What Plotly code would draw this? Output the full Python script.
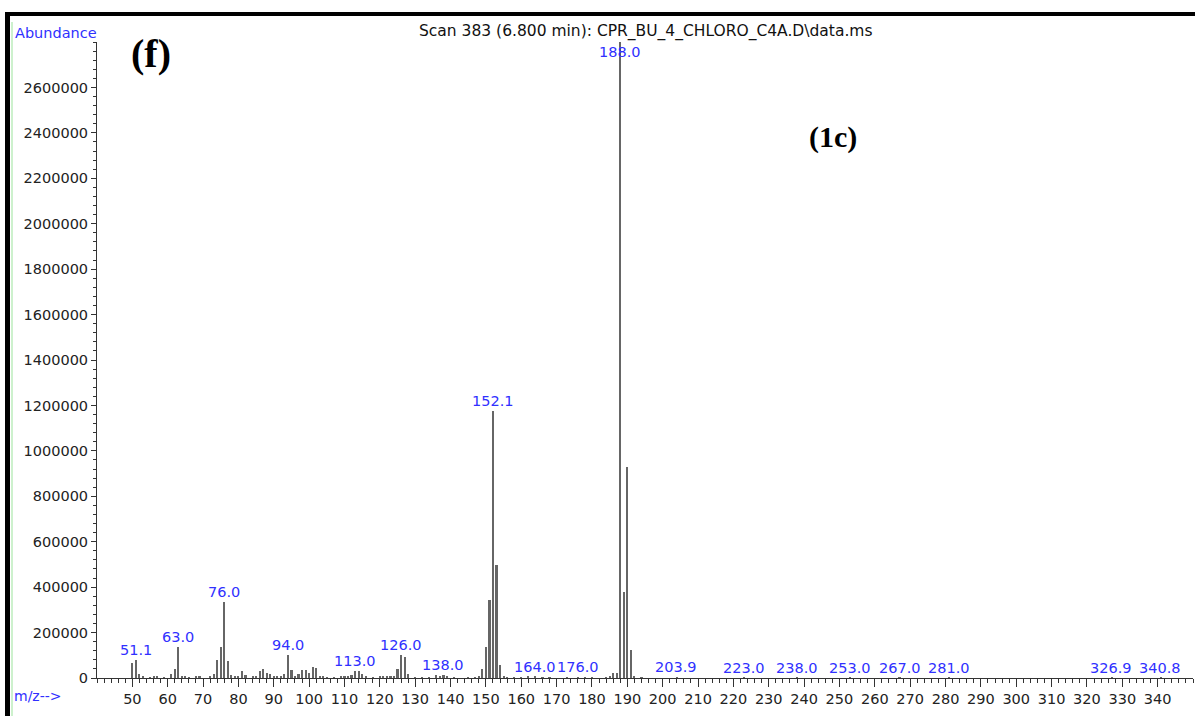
import plotly.graph_objects as go

# ---------------- data ----------------
mz = [50, 51, 52, 53, 55, 56, 57, 59, 61, 62, 63, 64, 65, 66, 68, 69, 72, 73, 74, 75,
      76, 77, 78, 79, 80, 81, 82, 84, 85, 86, 87, 88, 89, 90, 91, 92, 93, 94, 95, 96,
      97, 98, 99, 100, 101, 102, 103, 104, 105, 107, 109, 110, 111, 112, 113, 114, 115, 116, 118, 120,
      121, 122, 123, 124, 125, 126, 127, 128, 130, 132, 134, 136, 137, 138, 139, 141, 145, 147, 148, 149,
      150, 151, 152, 153, 154, 155, 156, 158, 160, 162, 164, 166, 168, 173, 176, 178, 180, 184, 185, 186,
      187, 188, 189, 190, 191, 192, 194, 204, 223, 238, 253, 267, 281, 327, 341]
abundance = [66000, 81000, 19000, 5000, 4000, 5000, 6000, 4000, 19000, 41000, 136000, 8000, 5000, 4000, 6000, 5000, 6000, 19000, 81000, 136000,
             333000, 76000, 15000, 7000, 5000, 32000, 13000, 6000, 8000, 29000, 40000, 20000, 19000, 8000, 5000, 6000, 19000, 103000, 34000, 8000,
             19000, 34000, 37000, 22000, 47000, 44000, 10000, 5000, 4000, 4000, 8000, 10000, 10000, 15000, 29000, 29000, 19000, 8000, 4000, 6000,
             6000, 7000, 8000, 10000, 41000, 103000, 92000, 19000, 4000, 3000, 4000, 12000, 9000, 13000, 8000, 3000, 3000, 4000, 6000, 41000,
             136000, 345000, 1175000, 497000, 59000, 8000, 4000, 3000, 3000, 10000, 6000, 3000, 3000, 3000, 4000, 3000, 3000, 4000, 6000, 22000,
             22000, 2810000, 378000, 927000, 125000, 6000, 3000, 3000, 2000, 2000, 1500, 1500, 1500, 1500, 1500]

peak_labels = [51.1, 63.0, 76.0, 94.0, 113.0, 126.0, 138.0, 152.1, 164.0, 176.0,
               188.0, 203.9, 223.0, 238.0, 253.0, 267.0, 281.0, 326.9, 340.8]

x_ticks = list(range(50, 341, 10))
y_ticks = list(range(0, 2600001, 200000))

title_text = "Scan 383 (6.800 min): CPR_BU_4_CHLORO_C4A.D\\data.ms"

# ---------------- layout geometry ----------------
W, H = 1195, 716
ML, MR, MT, MB = 97, 2, 42, 38
PW, PH = W - ML - MR, H - MT - MB
Y_MAX = 2800000
LABEL_CAP = 2710000


def px(xp):
    return (xp - ML) / PW


def py(yp):
    return (H - MB - yp) / PH


BLUE = "#3030ff"
FONT = "DejaVu Sans"

fig = go.Figure()
fig.add_trace(go.Bar(
    x=mz, y=abundance, width=0.6,
    marker=dict(color="#666666", line=dict(width=0)),
    hoverinfo="x+y",
))

ab_map = dict(zip(mz, abundance))
annotations = []
for v in peak_labels:
    h = ab_map.get(int(round(v)), 0)
    annotations.append(dict(
        x=v, y=min(h, LABEL_CAP), xref="x", yref="y",
        text=f"{v:.1f}", showarrow=False, xanchor="center", yanchor="bottom",
        font=dict(family=FONT, size=14.5, color=BLUE),
    ))

annotations += [
    dict(x=px(13), y=py(32.5), xref="paper", yref="paper", text="Abundance",
         showarrow=False, xanchor="left", yanchor="middle",
         font=dict(family=FONT, size=14.5, color=BLUE)),
    dict(x=px(12), y=py(696), xref="paper", yref="paper", text="m/z-->",
         showarrow=False, xanchor="left", yanchor="middle",
         font=dict(family=FONT, size=14, color=BLUE)),
    dict(x=px(646), y=py(32), xref="paper", yref="paper", text=title_text,
         showarrow=False, xanchor="center", yanchor="middle",
         font=dict(family=FONT, size=15.5, color="#111111")),
    dict(x=px(151), y=py(53), xref="paper", yref="paper", text="<b>(f)</b>",
         showarrow=False, xanchor="center", yanchor="middle",
         font=dict(family="Liberation Serif", size=40, color="#000000")),
    dict(x=px(833), y=py(137), xref="paper", yref="paper", text="<b>(1c)</b>",
         showarrow=False, xanchor="center", yanchor="middle",
         font=dict(family="Liberation Serif", size=30, color="#000000")),
]

shapes = [
    dict(type="rect", xref="paper", yref="paper", x0=px(5), x1=px(1195), y0=py(16), y1=py(12),
         fillcolor="#000000", line=dict(width=0), layer="above"),
    dict(type="rect", xref="paper", yref="paper", x0=px(5), x1=px(10), y0=py(716), y1=py(12),
         fillcolor="#000000", line=dict(width=0), layer="above"),
    dict(type="line", xref="paper", yref="paper", x0=px(12), x1=px(12), y0=py(716), y1=py(22),
         line=dict(color="#9be39b", width=1), layer="above"),
]

fig.update_layout(
    width=W, height=H,
    margin=dict(l=ML, r=MR, t=MT, b=MB, pad=0),
    paper_bgcolor="white", plot_bgcolor="white",
    showlegend=False,
    bargap=0,
    annotations=annotations,
    shapes=shapes,
    xaxis=dict(
        range=[40, 350], tickvals=x_ticks, ticktext=[str(t) for t in x_ticks],
        ticks="outside", ticklen=8, tickwidth=1, tickcolor="#333333",
        showline=True, linecolor="#333333", linewidth=1,
        showgrid=False, zeroline=False,
        tickfont=dict(family=FONT, size=14.5, color="#222222"),
        minor=dict(dtick=2, tick0=40, ticks="outside", ticklen=4, tickcolor="#333333", showgrid=False),
    ),
    yaxis=dict(
        range=[0, Y_MAX], tickvals=y_ticks, ticktext=[str(t) for t in y_ticks],
        ticks="outside", ticklen=5, tickwidth=1, tickcolor="#333333",
        showline=True, linecolor="#333333", linewidth=1,
        showgrid=False, zeroline=False,
        tickfont=dict(family=FONT, size=14.5, color="#222222"),
        minor=dict(dtick=40000, tick0=0, ticks="outside", ticklen=3, tickcolor="#333333", showgrid=False),
    ),
)

fig.write_html("out.html")
